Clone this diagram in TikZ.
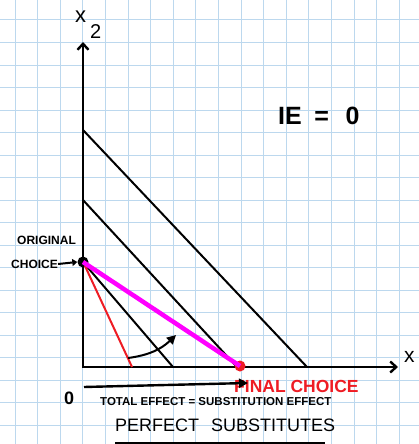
\documentclass[tikz,border=0pt]{standalone}
\usepackage{fontspec}
\setmainfont{Liberation Sans}
\usetikzlibrary{arrows.meta}
\definecolor{gridblue}{RGB}{188,216,238}
\definecolor{mag}{RGB}{255,0,255}
\definecolor{redpen}{RGB}{238,28,36}
\tikzset{
  gridline/.style={gridblue, line width=1pt},
  axis/.style={black, line width=2.4pt, {Straight Barb[length=6pt,width=11pt]}-{Straight Barb[length=6pt,width=11pt]}},
  budget/.style={black, line width=2pt},
  redline/.style={redpen, line width=2pt},
  magline/.style={mag, line width=4.5pt},
  hand/.style={inner sep=0pt, anchor=west},
  redtxt/.style={hand, text=redpen},
  dot/.style={circle, inner sep=0pt, minimum size=11pt}
}
\begin{document}
\begin{tikzpicture}[x=1pt,y=-1pt]
\fill[white] (0,0) rectangle (419,444);
\useasboundingbox (0,0) rectangle (419,444);
\foreach \i in {0,...,18} \draw[gridline] ({15+22.6*\i},0) -- ({15+22.6*\i},444);
\foreach \j in {0,...,19} \draw[gridline] (0,{20+22.5*\j}) -- (419,{20+22.5*\j});

\coordinate (O) at (83,367);
\coordinate (ytip) at (83,42);
\coordinate (xtip) at (398,367);
\coordinate (a1) at (83,130);
\coordinate (b1) at (307,367);
\coordinate (a2) at (83,200);
\coordinate (b2) at (237,367);
\coordinate (b3) at (173,367);
\coordinate (r1) at (85,266);
\coordinate (r2) at (132,367);

\draw[axis] (ytip) -- (O) -- (xtip);
\draw[budget] (a1) -- (b1);
\draw[budget] (a2) -- (b2);

\node[dot, fill=black] (orig) at (83,262) {};
\node[dot, fill=redpen] (final) at (240,366) {};
\draw[budget] (orig.center) -- (b3);
\draw[redline] (r1) -- (r2);
\draw[magline] (orig.center) -- (final.center);

\coordinate (c1) at (128,358);
\coordinate (c2) at (176,335);
\draw[black, line width=2pt, -{Triangle[length=9pt,width=9pt]}] (c1) to[bend right=18] (c2);

\node[hand, font=\fontsize{22}{22}\selectfont] (x2) at (75,17) {x};
\node[hand, font=\fontsize{20}{20}\selectfont] (two) at (90,32) {2};
\node[hand, font=\fontsize{21}{21}\selectfont] (x1) at (404,357) {x};

\node[hand, font=\fontsize{25}{25}\selectfont\bfseries] (ie) at (278,116) {IE\,\,\,=\,\,\,\,0};

\node[hand, font=\fontsize{12}{12}\selectfont\bfseries] (origtxt) at (17,240) {ORIGINAL};
\node[hand, font=\fontsize{12}{12}\selectfont\bfseries] (choicetxt) at (11,264) {CHOICE};
\draw[black, line width=2pt, -{Triangle[length=5pt,width=7pt]}] (choicetxt.east) -- (orig.west);

\node[redtxt, font=\fontsize{17.5}{17.5}\selectfont\bfseries] (finaltxt) at (234,386) {FINAL CHOICE};

\node[hand, font=\fontsize{18}{18}\selectfont\bfseries] (zero) at (64,398) {0};
\coordinate (t1) at (84,387);
\coordinate (t2) at (248,383);
\draw[black, line width=2.4pt, -{Triangle[length=9pt,width=9pt]}] (t1) -- (t2);

\node[hand, font=\fontsize{11.5}{11.5}\selectfont\bfseries] (total) at (100,402) {TOTAL EFFECT = SUBSTITUTION EFFECT};
\node[hand, font=\fontsize{18}{18}\selectfont] (perf) at (115,425) {PERFECT\,\,\,\,SUBSTITUTES};
\coordinate (u1) at (115,443);
\coordinate (u2) at (325,443);
\draw[black, line width=1.5pt] (u1) -- (u2);
\end{tikzpicture}
\end{document}
